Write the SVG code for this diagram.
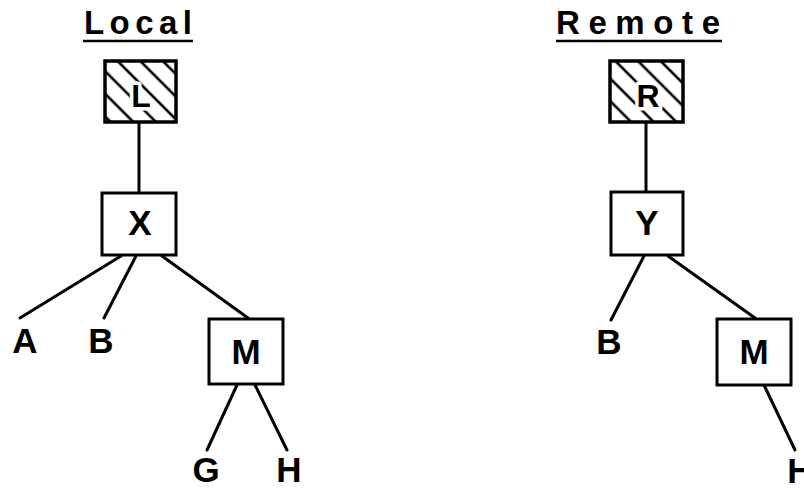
<svg xmlns="http://www.w3.org/2000/svg" width="804" height="488" viewBox="0 0 804 488">
  <style>
    .title { font-family: "Liberation Sans", Arial, sans-serif; font-weight: bold; font-size: 33px; fill: #000; }
    .lbl { font-family: "Liberation Sans", Arial, sans-serif; font-weight: bold; font-size: 35px; fill: #000; text-anchor: middle; }
    .root-lbl { font-family: "Liberation Sans", Arial, sans-serif; font-weight: bold; font-size: 32px; fill: #000; text-anchor: middle; stroke: #fff; stroke-width: 7px; paint-order: stroke; stroke-linejoin: round; }
    .box { fill: #fff; stroke: #000; stroke-width: 3; }
    .hatched { fill: url(#hatch); stroke: #000; stroke-width: 3.5; }
    .edge { stroke: #000; stroke-width: 3; fill: none; stroke-linecap: round; }
    .rule { stroke: #000; stroke-width: 2.5; }
  </style>
  <defs>
    <!-- diagonal "\" hatching for the root boxes -->
    <pattern id="hatch" patternUnits="userSpaceOnUse" width="16" height="16" patternTransform="rotate(45)">
      <rect width="16" height="16" fill="#fff"/>
      <line x1="0" y1="8" x2="16" y2="8" stroke="#000" stroke-width="2.6"/>
    </pattern>
  </defs>

  <rect width="804" height="488" fill="#fff"/>

  <!-- headings -->
  <g id="heading-local">
    <text class="title" x="84" y="34" textLength="108" lengthAdjust="spacing">Local</text>
    <line class="rule" x1="83" y1="41" x2="193" y2="41"/>
  </g>
  <g id="heading-remote">
    <text class="title" x="556" y="34" textLength="164" lengthAdjust="spacing">Remote</text>
    <line class="rule" x1="556" y1="41" x2="722" y2="41"/>
  </g>

  <!-- connectors -->
  <g id="connectors">
    <line class="edge" x1="139" y1="122" x2="139" y2="193"/>
    <line class="edge" x1="121" y1="256" x2="20" y2="318"/>
    <line class="edge" x1="136" y1="256" x2="104" y2="318"/>
    <line class="edge" x1="162" y1="256" x2="248" y2="318"/>
    <line class="edge" x1="237" y1="385" x2="207" y2="450"/>
    <line class="edge" x1="255" y1="385" x2="287" y2="450"/>

    <line class="edge" x1="646" y1="122" x2="646" y2="192"/>
    <line class="edge" x1="644" y1="256" x2="611" y2="320"/>
    <line class="edge" x1="668" y1="256" x2="755" y2="318"/>
    <line class="edge" x1="764" y1="385" x2="795" y2="450"/>
  </g>

  <!-- local tree -->
  <g id="node-L">
    <rect class="hatched" x="105" y="61" width="71" height="61"/>
    <text class="root-lbl" x="141" y="107">L</text>
  </g>
  <g id="node-X">
    <rect class="box" x="102" y="193" width="74" height="62"/>
    <text class="lbl" x="140" y="235">X</text>
  </g>
  <g id="node-A"><text class="lbl" x="25" y="353">A</text></g>
  <g id="node-B-local"><text class="lbl" x="101" y="353">B</text></g>
  <g id="node-M-local">
    <rect class="box" x="209" y="319" width="74" height="65"/>
    <text class="lbl" x="246" y="364">M</text>
  </g>
  <g id="node-G"><text class="lbl" x="206" y="482">G</text></g>
  <g id="node-H-local"><text class="lbl" x="289" y="482">H</text></g>

  <!-- remote tree -->
  <g id="node-R">
    <rect class="hatched" x="610" y="61" width="73" height="61"/>
    <text class="root-lbl" x="648" y="107">R</text>
  </g>
  <g id="node-Y">
    <rect class="box" x="611" y="192" width="72" height="63"/>
    <text class="lbl" x="647" y="235">Y</text>
  </g>
  <g id="node-B-remote"><text class="lbl" x="609" y="354">B</text></g>
  <g id="node-M-remote">
    <rect class="box" x="717" y="319" width="74" height="66"/>
    <text class="lbl" x="754" y="364">M</text>
  </g>
  <g id="node-H-remote"><text class="lbl" x="800" y="483">H</text></g>
</svg>
